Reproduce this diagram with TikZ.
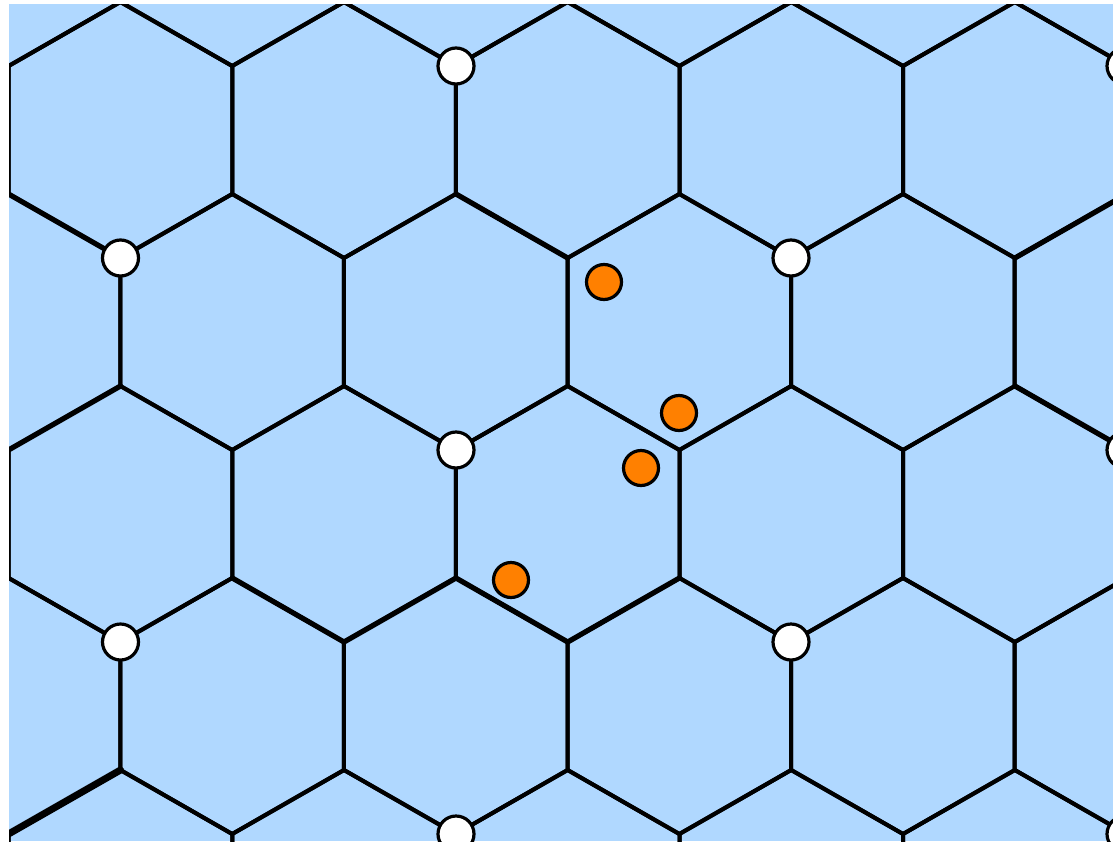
\documentclass[tikz,border=0pt]{standalone}
\definecolor{cellblue}{RGB}{176,216,255}
\definecolor{dotorange}{RGB}{255,128,0}
\tikzset{
  edge/.style={line width=4pt, line join=miter, draw=black},
  heavyedge/.style={line width=5.2pt, line cap=round, draw=black},
  whitevtx/.style={circle, draw=black, fill=white, line width=3.2pt, minimum size=36pt, inner sep=0pt},
  orangedot/.style={circle, draw=black, fill=dotorange, line width=3.2pt, minimum size=35pt, inner sep=0pt}
}
\begin{document}
\begin{tikzpicture}[x=1pt,y=-1pt]
\useasboundingbox (0,0) rectangle (1113,854);
\fill[cellblue] (9,4) rectangle (1113,841);
\begin{scope}
\clip (9,4) rectangle (1113,841);
\foreach \cy/\ox in {-62/8.5, 130/120.5, 322/8.5, 514/120.5, 706/8.5, 898/120.5} {
  \foreach \i in {-1,...,5} {
    \draw[edge] (\ox+223.6*\i, \cy) ++(0,-128) -- ++(111.8,64) -- ++(0,128) -- ++(-111.8,64) -- ++(-111.8,-64) -- ++(0,-128) -- cycle;
  }
}
% slightly heavier edges
\coordinate (a1) at (8.5,194);  \coordinate (a2) at (120.5,258);
\coordinate (b1) at (8.5,450);  \coordinate (b2) at (120.5,386);
\coordinate (c1) at (456,194);  \coordinate (c2) at (567.7,258);
\coordinate (d1) at (232.3,578); \coordinate (d2) at (344,642);
\coordinate (d3) at (456,578);  \coordinate (d4) at (567.7,642); \coordinate (d5) at (679.4,578);
\coordinate (e1) at (8.5,834);  \coordinate (e2) at (120.5,770);
\coordinate (f1) at (1014.9,386); \coordinate (f2) at (1126.7,450);
\coordinate (g1) at (1014.9,258); \coordinate (g2) at (1126.7,194);
\draw[heavyedge] (a1) -- (a2);
\draw[heavyedge] (b1) -- (b2);
\draw[heavyedge] (c1) -- (c2);
\draw[heavyedge] (d1) -- (d2) -- (d3) -- (d4) -- (d5);
\draw[heavyedge, line width=7pt] (e1) -- (e2);
\draw[heavyedge] (f1) -- (f2);
\draw[heavyedge] (g1) -- (g2);
\node[whitevtx] (w1) at (456,66) {};
\node[whitevtx] (w2) at (120.5,258) {};
\node[whitevtx] (w3) at (791,258) {};
\node[whitevtx] (w4) at (456,450) {};
\node[whitevtx] (w5) at (120.5,642) {};
\node[whitevtx] (w6) at (791,642) {};
\node[whitevtx] (w7) at (456,834) {};
\node[whitevtx] (w8) at (1125,66) {};
\node[whitevtx] (w9) at (1125,450) {};
\node[whitevtx] (w10) at (1125,834) {};
\end{scope}
\node[orangedot] (o1) at (604,282) {};
\node[orangedot] (o2) at (679,413) {};
\node[orangedot] (o3) at (641,468) {};
\node[orangedot] (o4) at (511,580) {};
\end{tikzpicture}
\end{document}
